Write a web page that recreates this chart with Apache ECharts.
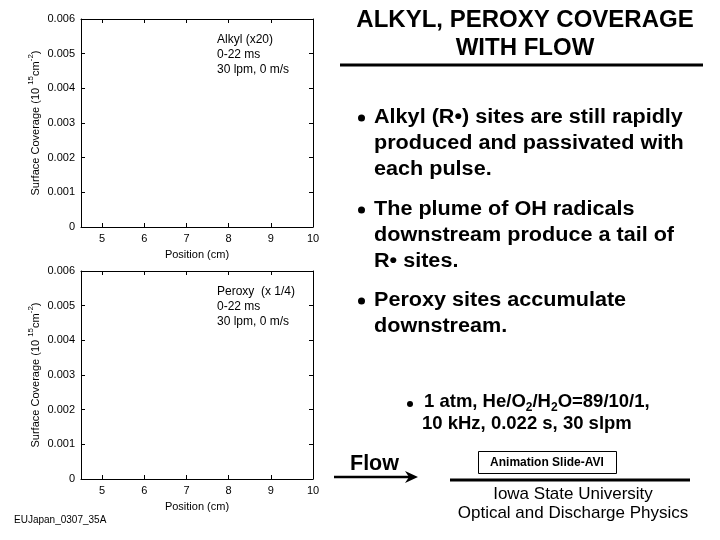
<!DOCTYPE html>
<html><head><meta charset="utf-8">
<script src="https://cdn.jsdelivr.net/npm/echarts@6/dist/echarts.min.js"></script>
<style>html,body{margin:0;padding:0;background:#fff}#c{width:720px;height:540px}</style>
</head><body><div id="c"></div>
<script>
// Data (the plotted panels are empty in the reference)
const xTicks = [5, 6, 7, 8, 9, 10];
const yTicks = [0, 0.001, 0.002, 0.003, 0.004, 0.005, 0.006];
const alkylValues = [];
const peroxyValues = [];
const alkylNotes = ['Alkyl (x20)', '0-22 ms', '30 lpm, 0 m/s'];
const peroxyNotes = ['Peroxy  (x 1/4)', '0-22 ms', '30 lpm, 0 m/s'];

const F = 'Liberation Sans, Arial, sans-serif';
const chart = echarts.init(document.getElementById('c'));
function xAx(gi, pos, show) {
  return {gridIndex: gi, type: 'value', position: pos, min: 4.5, max: 10,
    axisLine: {show: true, onZero: false, lineStyle: {color: '#000', width: 1}},
    axisTick: {show: true, inside: true, length: 4, customValues: xTicks, lineStyle: {color: '#000'}},
    axisLabel: {show: show, color: '#000', fontFamily: F, fontSize: 11, margin: 6,
      customValues: xTicks, formatter: v => String(v)},
    splitLine: {show: false},
    name: show ? 'Position (cm)' : '', nameLocation: 'middle', nameGap: 22,
    nameTextStyle: {color: '#000', fontFamily: F, fontSize: 11}};
}
function yAx(gi, pos, show) {
  return {gridIndex: gi, type: 'value', position: pos, min: 0, max: 0.006, interval: 0.001,
    axisLine: {show: true, onZero: false, lineStyle: {color: '#000', width: 1}},
    axisTick: {show: true, inside: true, length: 4, lineStyle: {color: '#000'}},
    axisLabel: {show: show, color: '#000', fontFamily: F, fontSize: 11, margin: 6,
      customValues: yTicks, formatter: v => (v === 0 ? '0' : v.toFixed(3))},
    splitLine: {show: false},
    name: show ? '{n|Surface Coverage (10 }{s|15}{n|cm}{s|-2}{n|)}' : '', nameLocation: 'middle', nameGap: 40,
    nameTextStyle: {color: '#000', fontFamily: F, fontSize: 11,
      rich: {n: {fontFamily: F, fontSize: 11, color: '#000', lineHeight: 14, verticalAlign: 'bottom'},
             s: {fontFamily: F, fontSize: 8, color: '#000', lineHeight: 14, verticalAlign: 'top'}}}};
}
function txt(x, y, text, size, bold, align, sx) {
  const o = {type: 'text', x: x, y: y, style: {text: text, fill: '#000',
    font: (bold ? 'bold ' : '') + size + 'px ' + F, textAlign: align || 'left', textVerticalAlign: 'middle'}};
  if (sx) { o.scaleX = sx; o.originX = 0; o.originY = 0; }
  return o;
}
const g = [];
alkylNotes.forEach((t, i) => g.push(txt(217, 40 + i * 15, t, 12, false)));
peroxyNotes.forEach((t, i) => g.push(txt(217, 292 + i * 15, t, 12, false)));
g.push(txt(525, 20, 'ALKYL, PEROXY COVERAGE', 24, true, 'center'));
g.push(txt(525, 48, 'WITH FLOW', 24, true, 'center'));
g.push({type: 'line', shape: {x1: 340, y1: 65, x2: 703, y2: 65}, style: {stroke: '#000', lineWidth: 3}});
const bullets = [
  {y: 117, lines: ['Alkyl (R\u2022) sites are still rapidly', 'produced and passivated with', 'each pulse.']},
  {y: 209, lines: ['The plume of OH radicals', 'downstream produce a tail of', 'R\u2022 sites.']},
  {y: 300, lines: ['Peroxy sites accumulate', 'downstream.']}
];
bullets.forEach(b => {
  g.push({type: 'circle', shape: {cx: 361.5, cy: b.y + 1, r: 3.5}, style: {fill: '#000'}});
  b.lines.forEach((l, i) => g.push(txt(374, b.y + i * 26, l, 20, true, 'left', 1.08)));
});
g.push({type: 'circle', shape: {cx: 410, cy: 404, r: 3}, style: {fill: '#000'}});
g.push({type: 'text', x: 424, y: 403, style: {rich: {
    n: {font: 'bold 18.5px ' + F, fill: '#000', lineHeight: 22, verticalAlign: 'top'},
    s: {font: 'bold 12px ' + F, fill: '#000', lineHeight: 22, verticalAlign: 'bottom'}},
  text: '{n|1 atm, He/O}{s|2}{n|/H}{s|2}{n|O=89/10/1,}', textVerticalAlign: 'middle'}});
g.push(txt(422, 424, '10 kHz, 0.022 s, 30 slpm', 18.5, true));
g.push(txt(350, 464, 'Flow', 21.5, true));
g.push({type: 'line', shape: {x1: 334, y1: 477, x2: 412, y2: 477}, style: {stroke: '#000', lineWidth: 2.5}});
g.push({type: 'polygon', shape: {points: [[418, 477], [405, 471], [409, 477], [405, 483]]}, style: {fill: '#000'}});
g.push({type: 'rect', shape: {x: 478.5, y: 451.5, width: 138, height: 22}, style: {fill: '#fff', stroke: '#000', lineWidth: 1}});
g.push(txt(547, 462.5, 'Animation Slide-AVI', 12, true, 'center'));
g.push({type: 'line', shape: {x1: 450, y1: 480, x2: 690, y2: 480}, style: {stroke: '#000', lineWidth: 3}});
g.push(txt(573, 494, 'Iowa State University', 17, false, 'center'));
g.push(txt(573, 513, 'Optical and Discharge Physics', 17, false, 'center'));
g.push(txt(14, 520, 'EUJapan_0307_35A', 10, false));

chart.setOption({
  animation: false,
  backgroundColor: '#fff',
  grid: [
    {left: 81, top: 19, width: 232, height: 208},
    {left: 81, top: 271, width: 232, height: 208}
  ],
  xAxis: [xAx(0, 'bottom', true), xAx(0, 'top', false), xAx(1, 'bottom', true), xAx(1, 'top', false)],
  yAxis: [yAx(0, 'left', true), yAx(0, 'right', false), yAx(1, 'left', true), yAx(1, 'right', false)],
  series: [
    {type: 'line', xAxisIndex: 0, yAxisIndex: 0, data: alkylValues, showSymbol: false},
    {type: 'line', xAxisIndex: 2, yAxisIndex: 2, data: peroxyValues, showSymbol: false}
  ],
  graphic: g
});
</script></body></html>
